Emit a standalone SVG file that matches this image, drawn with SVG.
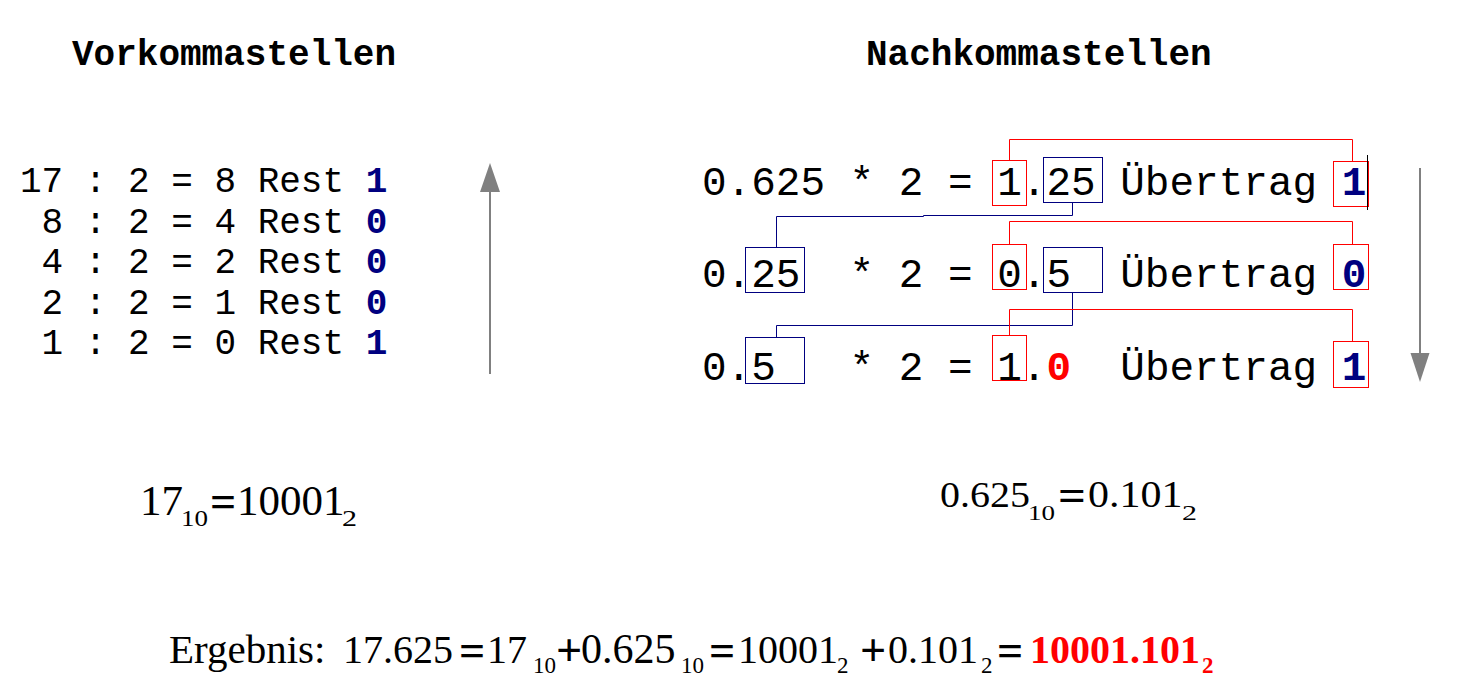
<svg xmlns="http://www.w3.org/2000/svg" width="1457" height="694" viewBox="0 0 1457 694">
<style>
text{white-space:pre}
.title{font-family:"Liberation Mono",monospace;font-weight:bold;font-size:36px;fill:#000}
.lm{font-family:"Liberation Mono",monospace;font-size:36px;fill:#000}
.rm{font-family:"Liberation Mono",monospace;font-size:41px;fill:#000}
.nb{font-weight:bold;fill:#000080}
.rb{font-weight:bold;fill:#ff0000}
.ser{font-family:"Liberation Serif",serif;font-size:40px;fill:#000}
.sub{font-family:"Liberation Serif",serif;font-size:23px;fill:#000}
.op{font-family:"Liberation Serif",serif;font-size:46px;font-weight:bold;fill:#000}
.red{fill:#ff0000;font-weight:bold}
.rbox{fill:none;stroke:#ff0000;stroke-width:1}
.bbox{fill:none;stroke:#000080;stroke-width:1}
.rline{fill:none;stroke:#ff0000;stroke-width:1}
.bline{fill:none;stroke:#000080;stroke-width:1}
.arr{stroke:#808080;stroke-width:2;fill:none}
.head{fill:#808080}
</style>
<g id="titles">
<text class="title" x="72" y="65">Vorkommastellen</text>
<text class="title" x="866" y="65">Nachkommastellen</text>
</g>
<g id="vorkomma">
<text class="lm" x="20" y="192" xml:space="preserve">17 : 2 = 8 Rest <tspan class="nb">1</tspan></text>
<text class="lm" x="20" y="232.5" xml:space="preserve"> 8 : 2 = 4 Rest <tspan class="nb">0</tspan></text>
<text class="lm" x="20" y="273" xml:space="preserve"> 4 : 2 = 2 Rest <tspan class="nb">0</tspan></text>
<text class="lm" x="20" y="313.5" xml:space="preserve"> 2 : 2 = 1 Rest <tspan class="nb">0</tspan></text>
<text class="lm" x="20" y="354" xml:space="preserve"> 1 : 2 = 0 Rest <tspan class="nb">1</tspan></text>
</g>
<g id="nachkomma">
<text class="rm" x="702" y="195" xml:space="preserve">0.625 * 2 = 1.25 Übertrag <tspan class="nb">1</tspan></text>
<text class="rm" x="702" y="287" xml:space="preserve">0.25  * 2 = 0.5  Übertrag <tspan class="nb">0</tspan></text>
<text class="rm" x="702" y="380" xml:space="preserve">0.5   * 2 = 1.<tspan class="rb">0</tspan>  Übertrag <tspan class="nb">1</tspan></text>
</g>
<g id="boxes">
<rect class="rbox" x="992.5" y="160.5" width="34" height="45"/>
<rect class="bbox" x="1043.5" y="157.5" width="59" height="45"/>
<rect class="rbox" x="1333.5" y="161.5" width="35" height="45"/>
<rect class="bbox" x="745.5" y="247.5" width="59" height="45"/>
<rect class="rbox" x="992.5" y="244.5" width="34" height="45"/>
<rect class="bbox" x="1043.5" y="247.5" width="59" height="45"/>
<rect class="rbox" x="1333.5" y="244.5" width="35" height="45"/>
<rect class="bbox" x="745.5" y="337.5" width="59" height="46"/>
<rect class="rbox" x="992.5" y="335.5" width="34" height="45"/>
<rect class="rbox" x="1333.5" y="341.5" width="35" height="46"/>
<line x1="1367.5" y1="155" x2="1367.5" y2="210" stroke="#000" stroke-width="1"/>
</g>
<g id="connectors">
<polyline class="rline" points="1009.5,160.5 1009.5,139.5 1352.5,139.5 1352.5,161.5"/>
<polyline class="bline" points="1072.5,202.5 1072.5,215.5 923.5,215.5 923.5,216.5 776.5,216.5 776.5,247.5"/>
<polyline class="rline" points="1009.5,244.5 1009.5,221.5 1352.5,221.5 1352.5,244.5"/>
<polyline class="bline" points="1072.5,292.5 1072.5,325.5 776.5,325.5 776.5,337.5"/>
<polyline class="rline" points="1009.5,335.5 1009.5,309.5 1352.5,309.5 1352.5,341.5"/>
<line class="arr" x1="490" y1="374" x2="490" y2="190"/>
<polygon class="head" points="480,192 500,192 490,163"/>
<line class="arr" x1="1420" y1="168" x2="1420" y2="355"/>
<polygon class="head" points="1410.5,353 1429.5,353 1420,382"/>
</g>
<g id="formula-left">
<text class="ser" x="140" y="515" style="font-size:43px">17</text>
<text class="sub" x="181" y="526" textLength="27" lengthAdjust="spacingAndGlyphs">10</text>
<text class="op" x="210" y="517">=</text>
<text class="ser" x="237" y="515" style="font-size:43px">10001</text>
<text class="sub" x="342" y="526" textLength="15" lengthAdjust="spacingAndGlyphs">2</text>
</g>
<g id="formula-right" transform="translate(0,507) scale(1,0.9)">
<text class="ser" x="940" y="0">0.625</text>
<text class="sub" x="1028" y="14" textLength="27" lengthAdjust="spacingAndGlyphs">10</text>
<text class="op" x="1058" y="3" style="font-size:49px">=</text>
<text class="ser" x="1088" y="0" style="font-size:42px">0.101</text>
<text class="sub" x="1182" y="14" textLength="15" lengthAdjust="spacingAndGlyphs">2</text>
</g>
<g id="ergebnis">
<text class="ser" x="169" y="663" style="font-size:41px">Ergebnis:</text>
<text class="ser" x="343" y="663">17.625</text>
<text class="op" x="459" y="666">=</text>
<text class="ser" x="487" y="663">17</text>
<text class="sub" x="533" y="673">10</text>
<text class="op" x="556" y="666">+</text>
<text class="ser" x="581" y="663" style="font-size:42px">0.625</text>
<text class="sub" x="681" y="673">10</text>
<text class="op" x="709" y="666">=</text>
<text class="ser" x="738" y="663">10001</text>
<text class="sub" x="837" y="673">2</text>
<text class="op" x="860" y="666">+</text>
<text class="ser" x="888" y="663">0.101</text>
<text class="sub" x="981" y="673">2</text>
<text class="op" x="997" y="666">=</text>
<text class="ser red" x="1030" y="663">10001.101</text>
<text class="sub red" x="1202" y="673">2</text>
</g>
</svg>
